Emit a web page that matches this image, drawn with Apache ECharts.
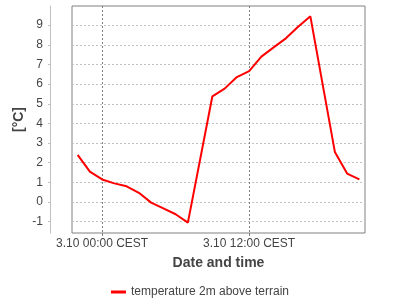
<!DOCTYPE html>
<html>
<head>
<meta charset="utf-8">
<script src="https://cdn.jsdelivr.net/npm/echarts@6/dist/echarts.min.js"></script>
<style>html,body{margin:0;padding:0;background:#fff;}#c{width:400px;height:300px;}</style>
</head>
<body>
<div id="c"></div>
<script>
// Hours relative to 3.10 00:00 CEST
var hours = [-2, -1, 0, 1, 2, 3, 4, 5, 6, 7, 9, 10, 11, 12, 13, 14, 15, 16, 17, 19, 20, 21];
var temps = [2.4, 1.55, 1.15, 0.95, 0.8, 0.47, -0.03, -0.32, -0.62, -1.05, 5.38, 5.77, 6.36, 6.66, 7.4, 7.87, 8.33, 8.92, 9.45, 2.55, 1.45, 1.15];
var xTickHours = [0, 12];
var xTickLabels = ['3.10 00:00 CEST', '3.10 12:00 CEST'];
var yTicks = [-1, 0, 1, 2, 3, 4, 5, 6, 7, 8, 9];
var seriesName = 'temperature 2m above terrain';

var data = hours.map(function (h, i) { return [h, temps[i]]; });
var font = 'Liberation Sans';
var chart = echarts.init(document.getElementById('c'), null, {renderer: 'canvas'});
chart.setOption({
  animation: false,
  backgroundColor: '#fff',
  textStyle: {fontFamily: font},
  grid: {left: 72, top: 6, right: 35, bottom: 67, show: true, borderColor: '#808080', borderWidth: 1,
    backgroundColor: '#fff', containLabel: false, outerBoundsMode: 'none'},
  xAxis: {
    type: 'value', min: -2.46, max: 21.46,
    axisLine: {show: false, onZero: false},
    axisTick: {show: true, customValues: xTickHours, length: 3, lineStyle: {color: '#808080'}},
    axisLabel: {customValues: xTickHours, color: '#444', fontSize: 12, fontFamily: font, margin: 5,
      formatter: function (v) { var i = xTickHours.indexOf(v); return i >= 0 ? xTickLabels[i] : ''; }},
    splitLine: {show: true, lineStyle: {color: '#808080', type: [2, 2], width: 1}},
    name: 'Date and time', nameLocation: 'middle', nameGap: 23,
    nameTextStyle: {fontWeight: 'bold', fontSize: 14, color: '#444', fontFamily: font}
  },
  yAxis: {
    type: 'value', min: -1.575, max: 9.975, offset: 22,
    axisLine: {show: true, onZero: false, lineStyle: {color: '#c0c0c0'}},
    axisTick: {show: true, customValues: yTicks, length: 2, lineStyle: {color: '#c0c0c0'}},
    axisLabel: {customValues: yTicks, color: '#444', fontSize: 12, fontFamily: font, margin: 7},
    splitLine: {show: true, lineStyle: {color: '#c0c0c0', type: [2, 2], width: 1}},
    name: '[°C]', nameLocation: 'middle', nameGap: 24, nameMoveOverlap: false,
    nameTextStyle: {fontWeight: 'bold', fontSize: 14, color: '#444', fontFamily: font}
  },
  legend: {
    top: 281, left: 'center', itemWidth: 15, itemHeight: 3, icon: 'rect', itemGap: 10,
    textStyle: {color: '#444', fontSize: 12, fontFamily: font},
    data: [seriesName]
  },
  series: [{
    name: seriesName, type: 'line', data: data, showSymbol: false, symbol: 'none',
    lineStyle: {color: '#ff0000', width: 2}, itemStyle: {color: '#ff0000'}
  }]
});
</script>
</body>
</html>
